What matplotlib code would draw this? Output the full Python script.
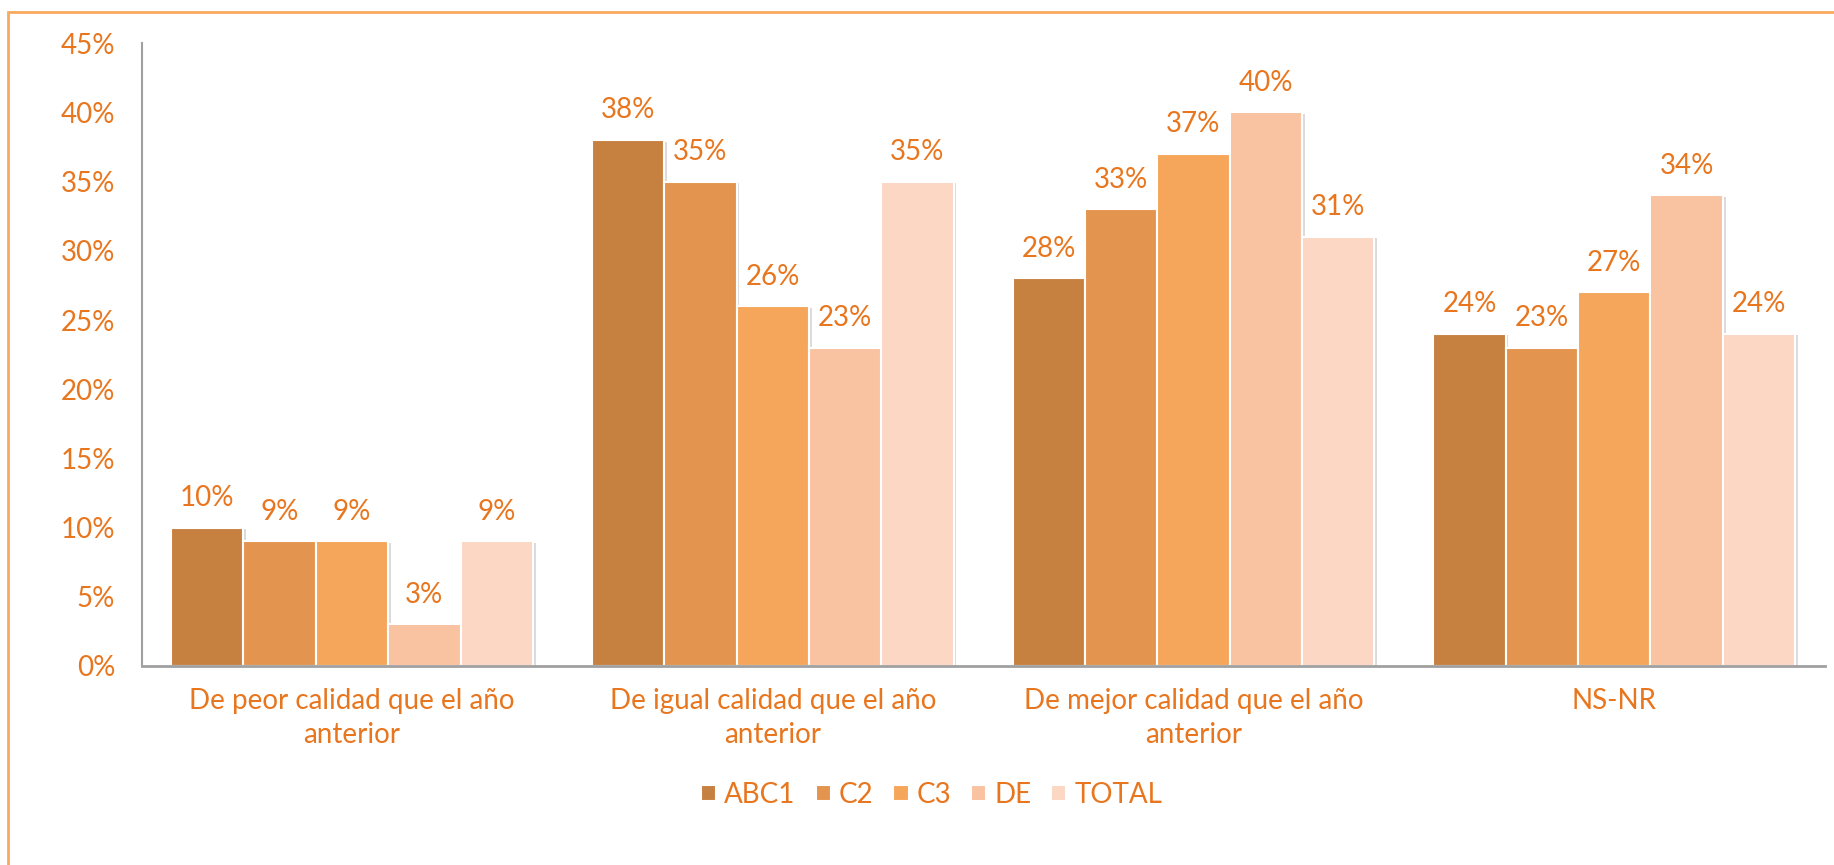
import matplotlib
matplotlib.use("Agg")
import matplotlib.pyplot as plt
import matplotlib.patheffects as pe
from matplotlib.patches import Rectangle
import numpy as np

plt.rcParams['font.family'] = ['Lato', 'DejaVu Sans']

# data
categories = ["De peor calidad que el año\nanterior",
              "De igual calidad que el año\nanterior",
              "De mejor calidad que el año\nanterior",
              "NS-NR"]
series_names = ["ABC1", "C2", "C3", "DE", "TOTAL"]
abc1 = [10, 38, 28, 24]
c2 = [9, 35, 33, 23]
c3 = [9, 26, 37, 27]
de = [3, 23, 40, 34]
total = [9, 35, 31, 24]
yticks = [0, 5, 10, 15, 20, 25, 30, 35, 40, 45]

series = [abc1, c2, c3, de, total]
colors = ["#C68140", "#E3954F", "#F6A65A", "#F9C2A0", "#FBD7C4"]
text_color = "#E8761E"

fig = plt.figure(figsize=(18.34, 8.65), dpi=100)
ax = fig.add_axes([0.0772, 0.2301, 0.9177, 0.7199])

x = np.arange(len(categories))
width = 0.172
shadow = [pe.SimplePatchShadow(offset=(2, -1), shadow_rgbFace="#999999", alpha=0.35), pe.Normal()]

for i, (vals, name) in enumerate(zip(series, series_names)):
    pos = x + (i - 2) * width
    bars = ax.bar(pos, vals, width, color=colors[i], edgecolor="white",
                  linewidth=1.5, label=name, zorder=2)
    for b in bars:
        b.set_path_effects(shadow)
    for px, v in zip(pos, vals):
        ax.annotate(f"{v}%", (px, v), xytext=(0, 12), textcoords="offset points",
                    ha="center", va="bottom", fontsize=20, color=text_color)

ax.set_xlim(-0.5, len(categories) - 0.5)
ax.set_ylim(0, 45)
ax.set_yticks(yticks)
ax.set_yticklabels([f"{t}%" for t in yticks])
ax.set_xticks(x)
ax.set_xticklabels(categories, linespacing=1.35)
ax.tick_params(axis="y", length=0, pad=19, labelsize=20, labelcolor=text_color)
ax.tick_params(axis="x", length=0, pad=16, labelsize=20, labelcolor=text_color)

for s in ["top", "right"]:
    ax.spines[s].set_visible(False)
ax.spines["left"].set_color("#A0A0A0")
ax.spines["bottom"].set_color("#A0A0A0")
ax.spines["left"].set_linewidth(1.5)
ax.spines["bottom"].set_linewidth(2)

leg = fig.legend(loc="center", bbox_to_anchor=(0.508, 0.081), ncol=5, frameon=False,
                 fontsize=20, handlelength=0.55, handleheight=0.55, handletextpad=0.28,
                 columnspacing=0.72)
for t in leg.get_texts():
    t.set_color(text_color)
for h in leg.legend_handles:
    h.set_path_effects([])

# outer frame, runs off the right and bottom edge like the source
fig.patches.append(Rectangle((8 / 1834, -0.05), 1.1, 1 - 12 / 865 + 0.05,
                             transform=fig.transFigure, fill=False,
                             edgecolor="#F9A95E", linewidth=2))

fig.savefig("out.png", dpi=100)
